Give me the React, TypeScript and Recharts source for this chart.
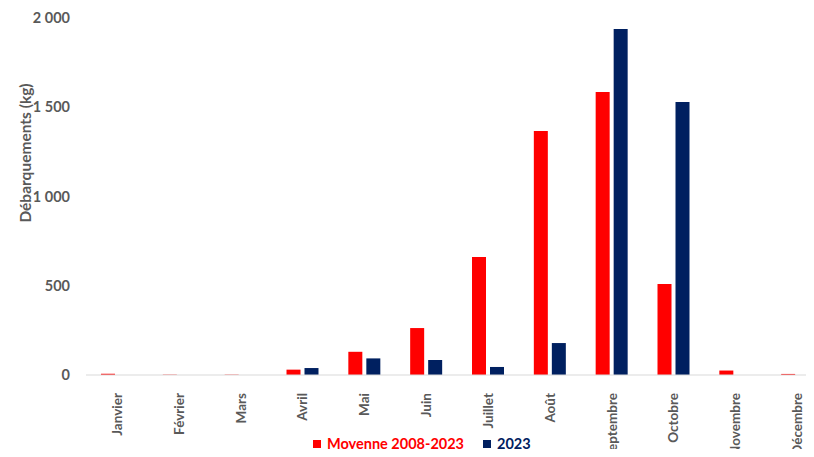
import React from "react";
import { BarChart, Bar, XAxis, YAxis, Legend } from "recharts";

const months = [
  "Janvier",
  "Février",
  "Mars",
  "Avril",
  "Mai",
  "Juin",
  "Juillet",
  "Août",
  "Septembre",
  "Octobre",
  "Novembre",
  "Décembre",
];
const moyenne = [7, 2, 2, 30, 130, 263, 661, 1367, 1585, 510, 25, 6];
const annee2023 = [0, 0, 0, 39, 93, 84, 45, 179, 1938, 1529, 0, 0];
const yTicks = [0, 500, 1000, 1500, 2000];

const RED = "#FF0000";
const NAVY = "#002060";
const GREY = "#595959";
const FONT = "Lato, 'Open Sans', sans-serif";

const data = months.map((m, i) => ({
  month: m,
  moyenne: moyenne[i],
  y2023: annee2023[i],
}));

// thousands separated by a space, like "2 000"
const fmt = (v: number) =>
  String(v).replace(/\B(?=(\d{3})+(?!\d))/g, " ");

const MonthTick = ({ x, y, payload }: any) => (
  <text
    x={x}
    y={y + 10}
    transform={`rotate(-90, ${x}, ${y + 10})`}
    textAnchor="end"
    dominantBaseline="central"
    fill={GREY}
    fontSize={13.5}
    fontWeight={700}
    fontFamily={FONT}
  >
    {payload.value}
  </text>
);

const YLabel = () => (
  <text
    x={25}
    y={153}
    transform="rotate(-90, 25, 153)"
    textAnchor="middle"
    dominantBaseline="central"
    fill={GREY}
    fontSize={15.5}
    fontWeight={700}
    fontFamily={FONT}
  >
    Débarquements (kg)
  </text>
);

const LegendContent = () => (
  <div
    style={{
      display: "flex",
      alignItems: "center",
      fontFamily: FONT,
      fontWeight: 700,
      fontSize: 14.5,
      lineHeight: "16px",
    }}
  >
    <span style={{ width: 8, height: 8, background: RED, marginRight: 6 }} />
    <span style={{ color: RED, marginRight: 19 }}>Moyenne 2008-2023</span>
    <span style={{ width: 8, height: 8, background: NAVY, marginRight: 6 }} />
    <span style={{ color: NAVY }}>2023</span>
  </div>
);

export default function App() {
  return (
    <div
      style={{
        margin: -8,
        width: 814,
        height: 457,
        overflow: "hidden",
        background: "#fff",
      }}
    >
      <BarChart
        width={840}
        height={457}
        data={data}
        margin={{ top: 18, right: 12, bottom: 0, left: 0 }}
        barGap={4}
        barSize={14}
      >
        <XAxis
          dataKey="month"
          height={52}
          interval={0}
          tickLine={false}
          axisLine={{ stroke: "#D9D9D9" }}
          tick={<MonthTick />}
        />
        <YAxis
          width={86}
          domain={[0, 2000]}
          ticks={yTicks}
          tickFormatter={fmt}
          axisLine={false}
          tickLine={false}
          tickSize={0}
          tickMargin={16}
          tick={{ fill: GREY, fontSize: 14.5, fontWeight: 700, fontFamily: FONT }}
          label={<YLabel />}
        />
        <Legend
          verticalAlign="bottom"
          height={30}
          content={<LegendContent />}
          wrapperStyle={{ top: 436, left: 313, width: 260 }}
        />
        <Bar dataKey="moyenne" name="Moyenne 2008-2023" fill={RED} isAnimationActive={false} />
        <Bar dataKey="y2023" name="2023" fill={NAVY} isAnimationActive={false} />
      </BarChart>
    </div>
  );
}
